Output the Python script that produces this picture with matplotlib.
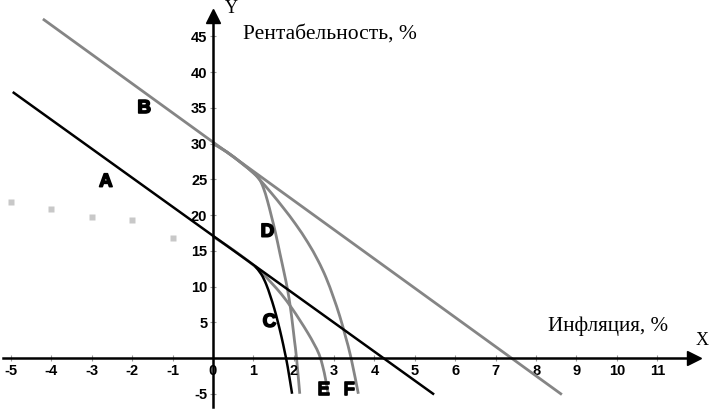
import matplotlib
matplotlib.use("Agg")
import matplotlib.pyplot as plt
from matplotlib.path import Path
from matplotlib.patches import PathPatch
import matplotlib.patheffects as pe

# ---- data ----
line_a_x = [-4.93, 5.45]
line_a_y = [37.1, -5.0]
line_b_x = [-4.18, 8.61]
line_b_y = [47.3, -5.0]

dots_x = [-5, -4, -3, -2, -1]
dots_y = [21.8, 20.8, 19.7, 19.3, 16.8]

curve_c_x = [1.05, 1.2, 1.32, 1.42, 1.52, 1.61, 1.7, 1.78, 1.85, 1.96]
curve_c_y = [12.8, 11.7, 10.3, 8.7, 6.9, 5.0, 2.9, 0.8, -1.2, -5.0]

curve_d_x = [0.0, 0.35, 0.7, 1.0, 1.15, 1.25, 1.35, 1.45, 1.55, 1.66, 1.76, 1.85, 1.92, 1.97, 2.02, 2.07, 2.15]
curve_d_y = [30.0, 28.8, 27.3, 25.9, 25.0, 23.8, 22.0, 19.8, 17.5, 14.6, 12.0, 9.5, 7.0, 4.8, 2.4, 0.0, -5.0]

curve_e_x = [0.0, 0.35, 0.7, 1.0, 1.2, 1.45, 1.7, 1.95, 2.15, 2.35, 2.5, 2.63, 2.72, 2.79, 2.85]
curve_e_y = [17.0, 15.7, 14.3, 13.0, 12.0, 10.5, 8.9, 7.0, 5.3, 3.5, 2.0, 0.5, -1.2, -3.0, -5.0]

curve_f_x = [0.0, 0.35, 0.7, 1.0, 1.15, 1.45, 1.75, 2.05, 2.35, 2.6, 2.8, 2.98, 3.14, 3.28, 3.42, 3.6]
curve_f_y = [30.0, 28.8, 27.3, 25.9, 25.0, 23.05, 20.95, 18.7, 16.15, 13.65, 11.25, 8.55, 5.85, 3.05, 0.0, -5.0]

x_ticks = list(range(-5, 12))
y_ticks = [-5, 5, 10, 15, 20, 25, 30, 35, 40, 45]

labels = ["A", "B", "C", "D", "E", "F"]
label_x = [-2.65, -1.7, 1.4, 1.35, 2.74, 3.37]
label_y = [24.6, 34.9, 5.0, 17.6, -4.5, -4.5]

GRAY = "#858585"


def smooth_curve(ax, xs, ys, **kw):
    """Draw a smooth curve through the read points (Catmull-Rom as Bezier path)."""
    pts = list(zip(xs, ys))
    n = len(pts)
    verts = [pts[0]]
    codes = [Path.MOVETO]
    for i in range(n - 1):
        p0 = pts[i - 1] if i > 0 else pts[i]
        p1 = pts[i]
        p2 = pts[i + 1]
        p3 = pts[i + 2] if i + 2 < n else pts[i + 1]
        c1 = (p1[0] + (p2[0] - p0[0]) / 6, p1[1] + (p2[1] - p0[1]) / 6)
        c2 = (p2[0] - (p3[0] - p1[0]) / 6, p2[1] - (p3[1] - p1[1]) / 6)
        verts += [c1, c2, p2]
        codes += [Path.CURVE4] * 3
    patch = PathPatch(Path(verts, codes), facecolor="none", transform=ax.transData, **kw)
    ax.add_patch(patch)


fig = plt.figure(figsize=(7.09, 4.17), dpi=100)
ax = fig.add_axes([0, 0, 1, 1])
ax.set_xlim(-5.27, 12.28)
ax.set_ylim(-8.25, 50.07)

for s in ["top", "right"]:
    ax.spines[s].set_visible(False)
ax.spines["left"].set_position(("data", 0))
ax.spines["bottom"].set_position(("data", 0))
ax.spines["left"].set_bounds(-6.8, 47.5)
ax.spines["bottom"].set_bounds(-5.2, 11.7)
ax.spines["left"].set_linewidth(1.8)
ax.spines["bottom"].set_linewidth(1.8)
ax.plot(11.9, 0, ">", color="black", ms=10, clip_on=False)
ax.plot(0, 47.8, "^", color="black", ms=10, clip_on=False)

ax.set_xticks(x_ticks)
ax.set_yticks(y_ticks)
ax.tick_params(axis="both", direction="inout", length=4, width=0.8, color="#999999",
               labelsize=10.5, pad=2)
ax.set_xticklabels([str(t) for t in x_ticks], fontweight="bold", family="Liberation Sans")
ax.set_yticklabels([str(t) for t in y_ticks], fontweight="bold", family="Liberation Sans")

ax.plot(dots_x, dots_y, "s", color="#c8c8c8", ms=4.8, mec="none")
ax.plot(line_b_x, line_b_y, color=GRAY, lw=2.0)
smooth_curve(ax, curve_d_x, curve_d_y, edgecolor=GRAY, lw=2.0)
smooth_curve(ax, curve_f_x, curve_f_y, edgecolor=GRAY, lw=2.0)
smooth_curve(ax, curve_e_x, curve_e_y, edgecolor=GRAY, lw=2.0)
ax.plot(line_a_x, line_a_y, color="black", lw=1.8)
smooth_curve(ax, curve_c_x, curve_c_y, edgecolor="black", lw=1.8)

for t, x, y in zip(labels, label_x, label_y):
    ax.text(x, y, t, fontsize=13.5, fontweight="bold", family="Liberation Sans",
            ha="center", va="center",
            path_effects=[pe.withStroke(linewidth=1.2, foreground="black")])

ax.text(0.75, 45.3, "Рентабельность, %", fontsize=15.5, family="Liberation Serif",
        ha="left", va="center")
ax.text(8.3, 4.5, "Инфляция, %", fontsize=15.2, family="Liberation Serif",
        ha="left", va="center")
ax.text(12.1, 2.5, "X", fontsize=13, family="Liberation Serif", ha="center", va="center")
ax.text(0.45, 48.9, "Y", fontsize=13, family="Liberation Serif", ha="center", va="center")

fig.savefig("out.png", dpi=100)
